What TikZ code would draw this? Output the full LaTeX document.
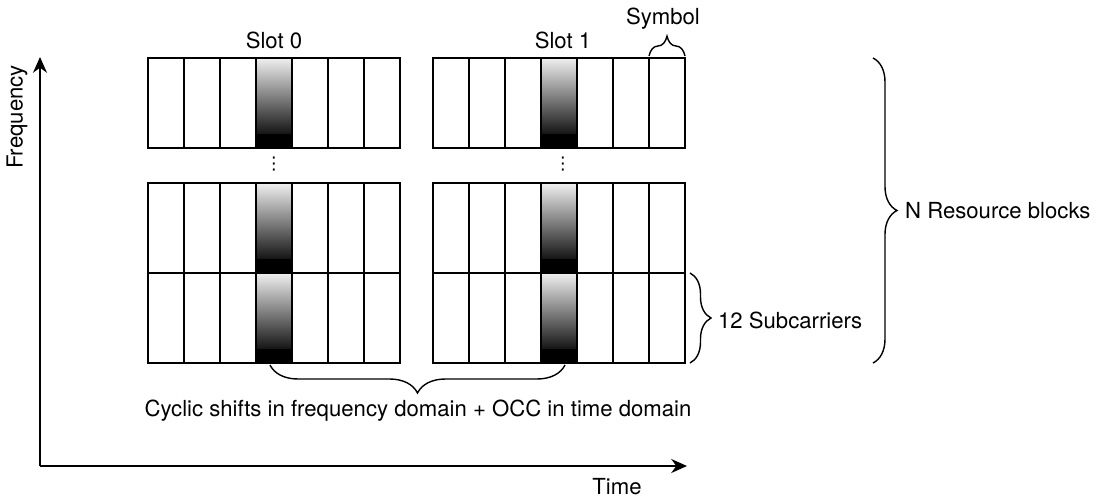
\documentclass[tikz,border=0pt]{standalone}
\usepackage{fontspec}
\setmainfont{TeX Gyre Heros}
\newfontfamily\symfont{DejaVu Sans}
\usetikzlibrary{arrows.meta,decorations.pathreplacing}

\tikzset{
  cell/.style={draw,line width=1.1pt},
  axis/.style={line width=0.9pt,-{Stealth[length=9pt,width=8pt]}},
  brace/.style={decorate,decoration={brace,amplitude=#1},line width=0.8pt},
  lbl/.style={font=\fontsize{12.6}{15}\selectfont,inner sep=1pt},
  vdot/.style={font=\symfont\fontsize{10}{12}\selectfont,inner sep=0pt}
}

\begin{document}
\begin{tikzpicture}[x=0.02cm,y=-0.02cm]
\useasboundingbox (0,0) rectangle (1099,497);
\foreach \sx in {148,433}{\foreach \ry in {58,183,273}{
  \shade[top color=black!6,bottom color=black!92] (\sx+108,\ry) rectangle (\sx+144,\ry+76);
  \fill[black] (\sx+108,\ry+76) rectangle (\sx+144,\ry+90);
  \foreach \c in {0,...,6}{\draw[cell] (\sx+36*\c,\ry) rectangle +(36,90);}}}
\node[lbl] (slot0) at (274,40) {Slot 0};
\node[lbl] (slot1) at (563,40) {Slot 1};
\node[vdot] (dots0) at (274,164) {⋮};
\node[vdot] (dots1) at (563,164) {⋮};
% axes
\coordinate (o) at (40,466);
\coordinate (fend) at (40,57);
\coordinate (tend) at (687,466);
\draw[axis] (o) -- (fend);
\draw[axis] (o) -- (tend);
\node[lbl,rotate=90] (freq) at (17,117) {Frequency};
\node[lbl] (time) at (617,487) {Time};
% braces
\coordinate (sym0) at (649,56); \coordinate (sym1) at (685,56);
\draw[brace=0.4cm] (sym0) -- (sym1);
\node[lbl] (symbol) at (663,19) {Symbol};
\coordinate (nb0) at (873,58); \coordinate (nb1) at (873,363);
\draw[brace=0.48cm] (nb0) -- (nb1);
\node[lbl,anchor=west] (nrb) at (903,211) {N Resource blocks};
\coordinate (sc0) at (690,273); \coordinate (sc1) at (690,363);
\draw[brace=0.42cm] (sc0) -- (sc1);
\node[lbl,anchor=west] (sub) at (716,320) {12 Subcarriers};
\coordinate (cs0) at (565,365); \coordinate (cs1) at (270,365);
\draw[brace=0.56cm] (cs0) -- (cs1);
\node[lbl] (cyc) at (418,411) {Cyclic shifts in frequency domain + OCC in time domain};
\end{tikzpicture}
\end{document}
